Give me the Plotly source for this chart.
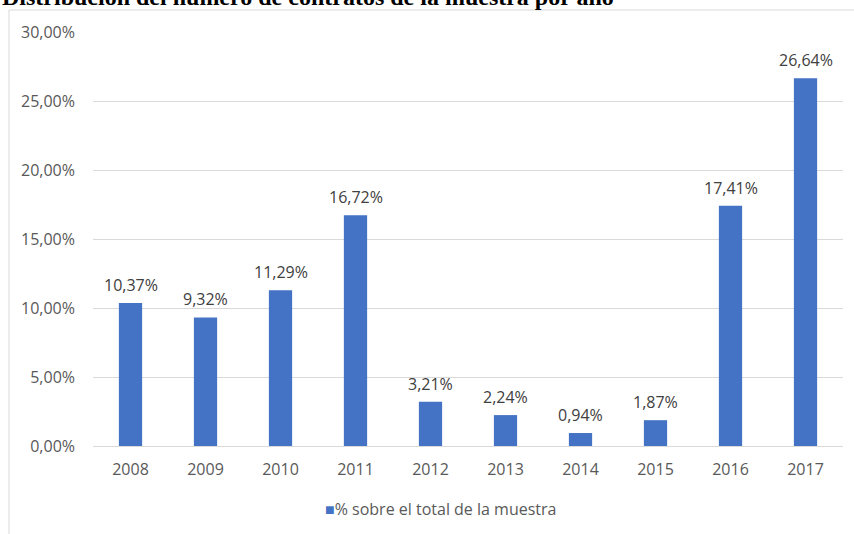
import plotly.graph_objects as go

years = ["2008", "2009", "2010", "2011", "2012", "2013", "2014", "2015", "2016", "2017"]
pct = [10.37, 9.32, 11.29, 16.72, 3.21, 2.24, 0.94, 1.87, 17.41, 26.64]
series_name = "% sobre el total de la muestra"
title_text = "Distribución del número de contratos de la muestra por año"
y_ticks = [0, 5, 10, 15, 20, 25, 30]
y_tick_labels = ["0,00%", "5,00%", "10,00%", "15,00%", "20,00%", "25,00%", "30,00%"]

W, H = 854, 534
L, R, T, B = 93, 11, 32, 88
pw, ph = W - L - R, H - T - B
FONT = "Open Sans, Liberation Sans, sans-serif"
FS = 16

def px_x(x):
    return (x - L) / pw

def px_y(y):
    return (H - B - y) / ph

fig = go.Figure()
fig.add_trace(go.Bar(
    x=years, y=pct, name=series_name, showlegend=False,
    marker=dict(color="#4472C4", line=dict(width=0)),
    hoverinfo="skip",
))

# data labels, placed through the data scales (category index on the x axis)
for i, v in enumerate(pct):
    fig.add_annotation(x=i, y=v, xref="x", yref="y", text=f"{v:.2f}%".replace(".", ","),
                       showarrow=False, yanchor="bottom", yshift=5,
                       font=dict(family=FONT, size=FS, color="#404040"))

fig.update_layout(
    width=W, height=H,
    margin=dict(l=L, r=R, t=T, b=B),
    paper_bgcolor="white", plot_bgcolor="white",
    separators=",.",
    bargap=0.69,
    font=dict(family=FONT, size=FS, color="#595959"),
    showlegend=False,
    xaxis=dict(type="category", range=[-0.5, len(years) - 0.5],
               showgrid=False, showline=True, linecolor="#D9D9D9", linewidth=1,
               ticks="", ticklabelstandoff=9, tickfont=dict(size=FS, color="#595959")),
    yaxis=dict(range=[0, 30], tickvals=y_ticks, ticktext=y_tick_labels,
               showgrid=True, gridcolor="#D9D9D9", gridwidth=1, zeroline=False,
               showline=False, ticks="", ticklabelstandoff=17,
               tickfont=dict(size=FS, color="#595959")),
)

# chart border (outer frame)
fig.add_shape(type="rect", xref="paper", yref="paper",
              x0=px_x(9), x1=px_x(870), y0=px_y(560), y1=px_y(10),
              line=dict(color="#D9D9D9", width=1), fillcolor="rgba(0,0,0,0)", layer="below")

# legend (square marker right next to the text)
fig.add_annotation(text="<span style='color:#4472C4'>■</span>" + series_name,
                   xref="paper", yref="paper", x=px_x(440), xanchor="center",
                   y=px_y(509), yanchor="middle", showarrow=False,
                   font=dict(family=FONT, size=FS, color="#595959"))

# title (partially cut at the top as in the reference)
fig.add_annotation(text="<b>" + title_text + "</b>", xref="paper", yref="paper",
                   x=px_x(0), xanchor="left", y=px_y(12), yanchor="bottom",
                   showarrow=False,
                   font=dict(family="Liberation Serif, Times New Roman, serif", size=24, color="black"))

fig.write_html("out.html", config={"displayModeBar": False},
               post_script="document.body.style.margin='0';")
